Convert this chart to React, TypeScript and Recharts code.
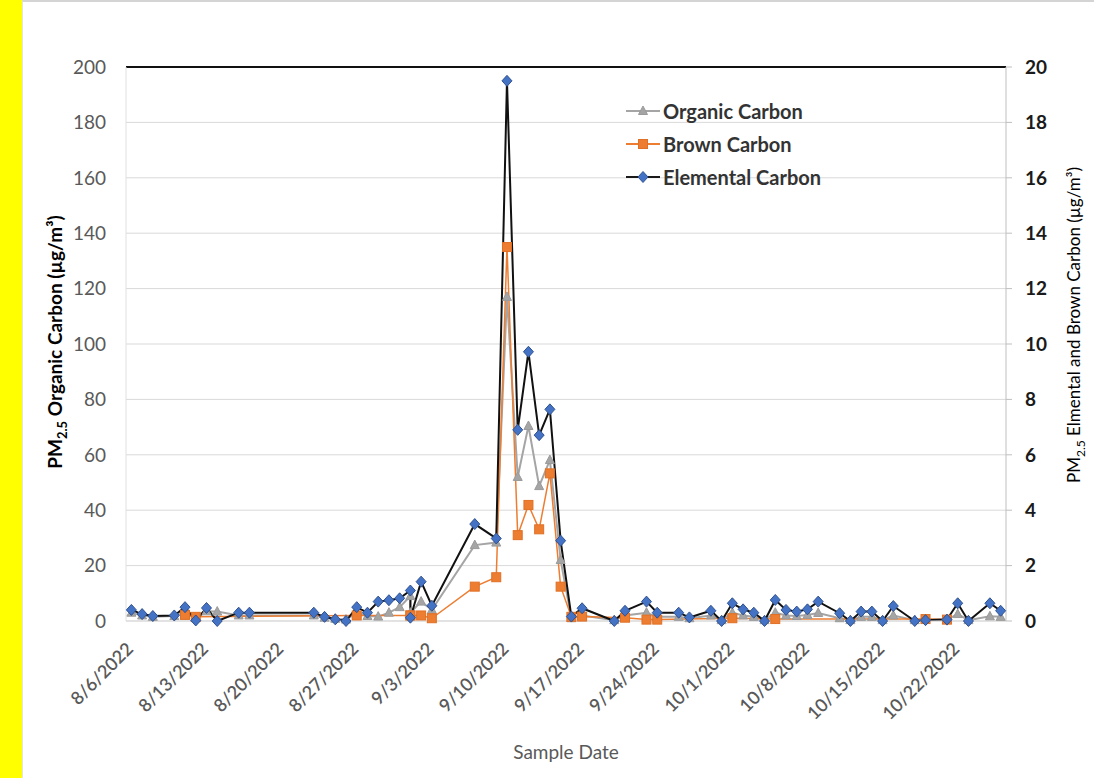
import React from 'react';
import { LineChart, Line, XAxis, YAxis, CartesianGrid, Legend, ReferenceLine } from 'recharts';

const sampleDates = [
  '8/6/2022', '8/7/2022', '8/8/2022', '8/10/2022', '8/11/2022', '8/12/2022', '8/13/2022', '8/14/2022',
  '8/16/2022', '8/17/2022', '8/23/2022', '8/24/2022', '8/25/2022', '8/26/2022', '8/27/2022', '8/28/2022',
  '8/29/2022', '8/30/2022', '8/31/2022', '9/1/2022', '9/1/2022', '9/2/2022', '9/3/2022', '9/7/2022',
  '9/9/2022', '9/10/2022', '9/11/2022', '9/12/2022', '9/13/2022', '9/14/2022', '9/15/2022', '9/16/2022',
  '9/17/2022', '9/20/2022', '9/21/2022', '9/23/2022', '9/24/2022', '9/26/2022', '9/27/2022', '9/29/2022',
  '9/30/2022', '10/1/2022', '10/2/2022', '10/3/2022', '10/4/2022', '10/5/2022', '10/6/2022', '10/7/2022',
  '10/8/2022', '10/9/2022', '10/11/2022', '10/12/2022', '10/13/2022', '10/14/2022', '10/15/2022', '10/16/2022',
  '10/18/2022', '10/19/2022', '10/21/2022', '10/22/2022', '10/23/2022', '10/25/2022', '10/26/2022'
];

// left axis, µg/m³
const organicCarbon = [
  3, 2, 1.5, 1.8, 3, 1, 3.5, 3.4,
  2, 2, 2, 1.2, 0.8, 0.5, 3, 1.8,
  1.6, 3, 5, 9, 3, 7, 4, 27.4,
  28.3, 117, 52, 70.4, 48.7, 58.1, 22, 1,
  2, 0.3, 2, 3, 1.5, 1.5, 1, 2,
  0.3, 3, 2, 1.5, 0.3, 3, 2, 1.8,
  2.2, 2.9, 1, 0.3, 1.5, 1.5, 0.3, 2,
  0.3, 0.5, 0.5, 2.5, 0.3, 1.7, 1.5
];

// right axis, µg/m³ (null = not measured)
const brownCarbon = [
  null, null, null, null, 0.22, 0.15, null, null,
  null, null, null, null, null, null, 0.2, null,
  null, null, null, 0.2, 0.2, 0.2, 0.1, 1.24,
  1.58, 13.5, 3.1, 4.19, 3.31, 5.33, 1.24, 0.15,
  0.16, null, 0.12, 0.05, 0.05, null, null, null,
  null, 0.1, null, null, null, 0.07, null, null,
  null, null, null, null, null, null, null, null,
  null, 0.07, 0.05, null, null, null, null
];

const elementalCarbon = [
  0.4, 0.25, 0.18, 0.2, 0.5, 0.02, 0.47, 0.0,
  0.3, 0.3, 0.3, 0.15, 0.06, 0.0, 0.5, 0.3,
  0.7, 0.75, 0.82, 1.1, 0.12, 1.42, 0.55, 3.5,
  2.98, 19.5, 6.9, 9.72, 6.71, 7.64, 2.9, 0.16,
  0.46, 0.0, 0.37, 0.7, 0.3, 0.3, 0.13, 0.37,
  0.0, 0.64, 0.42, 0.3, 0.0, 0.76, 0.4, 0.34,
  0.42, 0.7, 0.28, 0.0, 0.34, 0.34, 0.0, 0.54,
  0.0, 0.03, 0.05, 0.64, 0.0, 0.64, 0.37
];

const dateTicks = [
  '8/6/2022', '8/13/2022', '8/20/2022', '8/27/2022', '9/3/2022', '9/10/2022',
  '9/17/2022', '9/24/2022', '10/1/2022', '10/8/2022', '10/15/2022', '10/22/2022'
];
const leftTicks = [0, 20, 40, 60, 80, 100, 120, 140, 160, 180, 200];
const rightTicks = [0, 2, 4, 6, 8, 10, 12, 14, 16, 18, 20];

const FONT = 'Lato, "Open Sans", sans-serif';
const BASE = Date.UTC(2022, 7, 6);

const toDay = (s: string) => {
  const [m, d, y] = s.split('/').map(Number);
  return Math.round((Date.UTC(y, m - 1, d) - BASE) / 86400000);
};
const dayLabel = (n: number) => {
  const dt = new Date(BASE + n * 86400000);
  return `${dt.getUTCMonth() + 1}/${dt.getUTCDate()}/${dt.getUTCFullYear()}`;
};

const data = sampleDates.map((s, i) => ({
  day: toDay(s),
  oc: organicCarbon[i],
  bc: brownCarbon[i],
  ec: elementalCarbon[i]
}));

const tickDays = dateTicks.map(toDay);

const Triangle = ({ cx, cy }: any) => (
  <path d={`M${cx},${cy - 5} L${cx + 4.5},${cy + 3.5} L${cx - 4.5},${cy + 3.5} Z`} fill="#a5a5a5" stroke="#9a9a9a" />
);
const Square = ({ cx, cy }: any) => (
  <rect x={cx - 4.5} y={cy - 4.5} width={9} height={9} fill="#ed7d31" stroke="#e07025" />
);
const Diamond = ({ cx, cy }: any) => (
  <path d={`M${cx},${cy - 5.5} L${cx + 5},${cy} L${cx},${cy + 5.5} L${cx - 5},${cy} Z`} fill="#4472c4" stroke="#30528f" />
);

const markerOrNothing = (Shape: any, prefix: string) => (p: any) =>
  p.value == null || p.cy == null ? <g key={`${prefix}${p.index}`} /> : <Shape key={`${prefix}${p.index}`} cx={p.cx} cy={p.cy} />;

const DateTick = ({ x, y, payload }: any) => (
  <g transform={`translate(${x + 3},${y + 29}) rotate(-45)`}>
    <text textAnchor="end" fill="#595959" fontSize={18} fontWeight={600} fontFamily={FONT}>
      {dayLabel(payload.value)}
    </text>
  </g>
);

const LeftTitle = () => (
  <text transform="translate(62,342) rotate(-90)" textAnchor="middle" fill="#000" fontSize={19} fontWeight="bold" fontFamily={FONT}>
    PM<tspan dy={5} fontSize={13}>2.5</tspan><tspan dy={-5}> Organic Carbon (µg/m³)</tspan>
  </text>
);

const RightTitle = () => (
  <text transform="translate(1080,325) rotate(-90)" textAnchor="middle" fill="#000" fontSize={17} fontFamily={FONT}>
    PM<tspan dy={5} fontSize={12}>2.5</tspan><tspan dy={-5}> Elmental and Brown Carbon (µg/m³)</tspan>
  </text>
);

const BottomTitle = () => (
  <text x={566} y={759} textAnchor="middle" fill="#595959" fontSize={19} fontFamily={FONT}>
    Sample Date
  </text>
);

const legendItems = [
  { name: 'Organic Carbon', color: '#a5a5a5', marker: 'tri' },
  { name: 'Brown Carbon', color: '#ed7d31', marker: 'sq' },
  { name: 'Elemental Carbon', color: '#1a1a1a', marker: 'dia' }
];

const LegendContent = () => (
  <div style={{ fontFamily: FONT }}>
    {legendItems.map((it) => (
      <div key={it.name} style={{ display: 'flex', alignItems: 'center', height: 33 }}>
        <svg width={34} height={14} style={{ marginRight: 3 }}>
          <line x1={0} y1={7} x2={34} y2={7} stroke={it.color} strokeWidth={2} />
          {it.marker === 'tri' && <Triangle cx={17} cy={7} />}
          {it.marker === 'sq' && <Square cx={17} cy={7} />}
          {it.marker === 'dia' && <Diamond cx={17} cy={7} />}
        </svg>
        <span style={{ fontSize: 20, fontWeight: 'bold', color: '#333' }}>{it.name}</span>
      </div>
    ))}
  </div>
);

const CarbonChart = () => {
  return (
    <div style={{ position: 'absolute', left: 0, top: 0, width: 1094, height: 778, background: '#ffff00' }}>
      <div
        style={{
          position: 'absolute',
          left: 22,
          top: 0,
          width: 1072,
          height: 778,
          background: '#fff',
          borderTop: '2px solid #d4d4d4',
          borderLeft: '1px solid #e4e4e4',
          boxSizing: 'border-box'
        }}
      />
      <div style={{ position: 'absolute', left: 0, top: 0 }}>
        <LineChart width={1094} height={778} data={data} margin={{ top: 67, right: 38, left: 66, bottom: 57 }}>
          <CartesianGrid yAxisId="left" vertical={false} stroke="#d9d9d9" />
          <XAxis
            dataKey="day"
            type="number"
            domain={[-0.5, 81.5]}
            ticks={tickDays}
            tick={<DateTick />}
            tickLine={false}
            tickSize={0}
            tickMargin={0}
            axisLine={{ stroke: '#d9d9d9' }}
            height={100}
            interval={0}
            label={<BottomTitle />}
          />
          <YAxis
            yAxisId="left"
            domain={[0, 200]}
            ticks={leftTicks}
            width={60}
            tickLine={false}
            tickSize={6}
            tickMargin={14}
            axisLine={{ stroke: '#e0e0e0' }}
            tick={{ fill: '#595959', fontSize: 19, fontFamily: FONT }}
            label={<LeftTitle />}
          />
          <YAxis
            yAxisId="right"
            orientation="right"
            domain={[0, 20]}
            ticks={rightTicks}
            width={50}
            tickSize={6}
            tickMargin={13}
            tickLine={{ stroke: '#bfbfbf' }}
            axisLine={{ stroke: '#bfbfbf' }}
            tick={{ fill: '#1a1a1a', fontSize: 19, fontWeight: 'bold', fontFamily: FONT }}
            label={<RightTitle />}
          />
          <ReferenceLine yAxisId="left" y={200} stroke="#111" strokeWidth={2} />
          <Line
            yAxisId="left"
            dataKey="oc"
            name="Organic Carbon"
            stroke="#a5a5a5"
            strokeWidth={2}
            dot={markerOrNothing(Triangle, 't')}
            isAnimationActive={false}
          />
          <Line
            yAxisId="right"
            dataKey="bc"
            name="Brown Carbon"
            stroke="#ed7d31"
            strokeWidth={1.5}
            connectNulls
            dot={markerOrNothing(Square, 's')}
            isAnimationActive={false}
          />
          <Line
            yAxisId="right"
            dataKey="ec"
            name="Elemental Carbon"
            stroke="#111"
            strokeWidth={2}
            dot={markerOrNothing(Diamond, 'd')}
            isAnimationActive={false}
          />
          <Legend
            layout="vertical"
            align="center"
            verticalAlign="middle"
            content={<LegendContent />}
            wrapperStyle={{ top: 94, left: 626, width: 240 }}
          />
        </LineChart>
      </div>
    </div>
  );
};

export default function App() {
  return <CarbonChart />;
}
